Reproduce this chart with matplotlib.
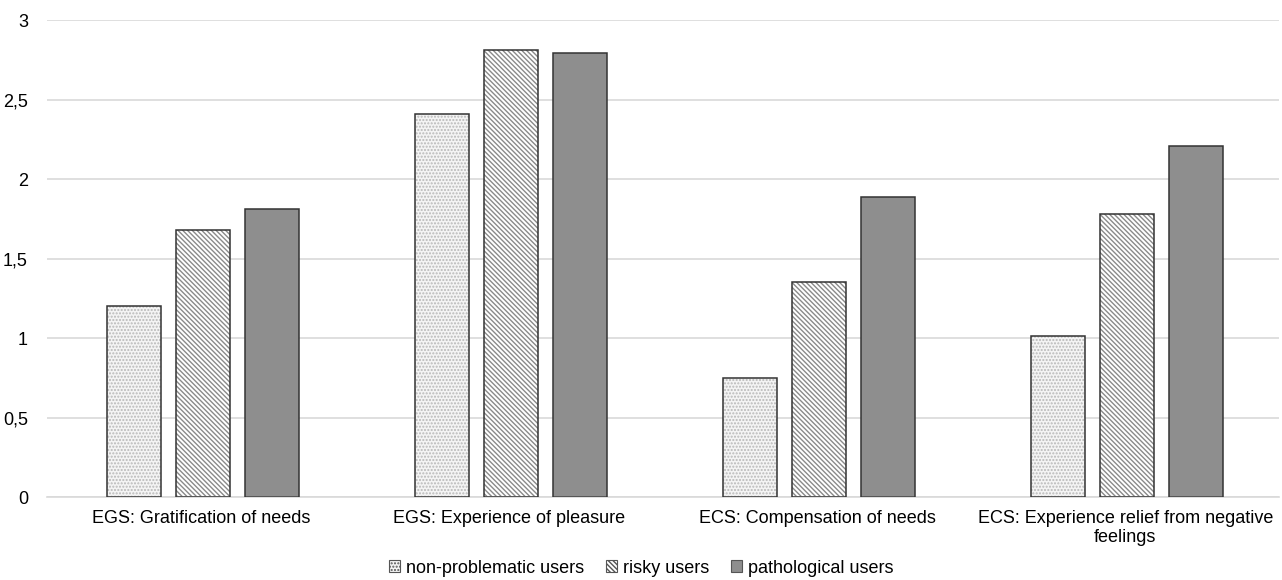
import numpy as np
from matplotlib import pyplot as plt
from matplotlib.patches import Patch

plt.rcParams['font.family'] = ['Liberation Sans', 'DejaVu Sans']
plt.rcParams['hatch.linewidth'] = 1.0

# data
categories = ['EGS: Gratification of needs', 'EGS: Experience of pleasure',
              'ECS: Compensation of needs', 'ECS: Experience relief from negative\nfeelings']
series = ['non-problematic users', 'risky users', 'pathological users']
non_problematic = [1.20, 2.41, 0.75, 1.01]
risky = [1.68, 2.81, 1.35, 1.78]
pathological = [1.81, 2.79, 1.89, 2.21]
yticks = [0, 0.5, 1, 1.5, 2, 2.5, 3]
ytick_labels = ['0', '0,5', '1', '1,5', '2', '2,5', '3']

fig = plt.figure(figsize=(12.82, 5.8), dpi=100)
ax = fig.add_axes([0.037, 0.143, 0.961, 0.8225])

x = np.arange(len(categories))
w = 0.175
step = 0.224
styles = [
    dict(face='#f4f4f4', hatch='.....', hcol='#b8b8b8'),
    dict(face='white', hatch='\\\\\\\\\\\\\\', hcol='#8a8a8a'),
    dict(face='#8e8e8e', hatch=None, hcol='#8e8e8e'),
]
values = [non_problematic, risky, pathological]
handles = []
for i, (vals, st) in enumerate(zip(values, styles)):
    pos = x + (i - 1) * step + 0.006
    # hatch layer
    ax.bar(pos, vals, w, color=st['face'], hatch=st['hatch'], edgecolor=st['hcol'],
           linewidth=0, zorder=2)
    # outline layer
    ax.bar(pos, vals, w, fill=False, edgecolor='#333333', linewidth=1.1, zorder=3)
    handles.append(Patch(facecolor=st['face'], hatch=st['hatch'], edgecolor='#555555',
                         linewidth=0.8, label=series[i]))

ax.set_ylim(0, 3)
ax.set_xlim(-0.5, 3.5)
ax.set_yticks(yticks)
ax.set_yticklabels(ytick_labels, fontsize=13)
ax.set_xticks(x)
ax.set_xticklabels(categories, fontsize=13)
ax.tick_params(length=0, pad=14)
ax.tick_params(axis='x', pad=9)
ax.grid(axis='y', color='#d9d9d9', linewidth=1.2, zorder=0)
ax.set_axisbelow(True)
for s in ['top', 'right', 'left']:
    ax.spines[s].set_visible(False)
ax.spines['bottom'].set_color('#d9d9d9')
ax.spines['bottom'].set_linewidth(1.2)

fig.legend(handles=handles, loc='lower center', bbox_to_anchor=(0.5, -0.022), ncol=3,
           frameon=False, fontsize=13, handlelength=0.65, handleheight=0.65,
           handletextpad=0.3, columnspacing=1.2)

plt.savefig('out.png', dpi=100)
